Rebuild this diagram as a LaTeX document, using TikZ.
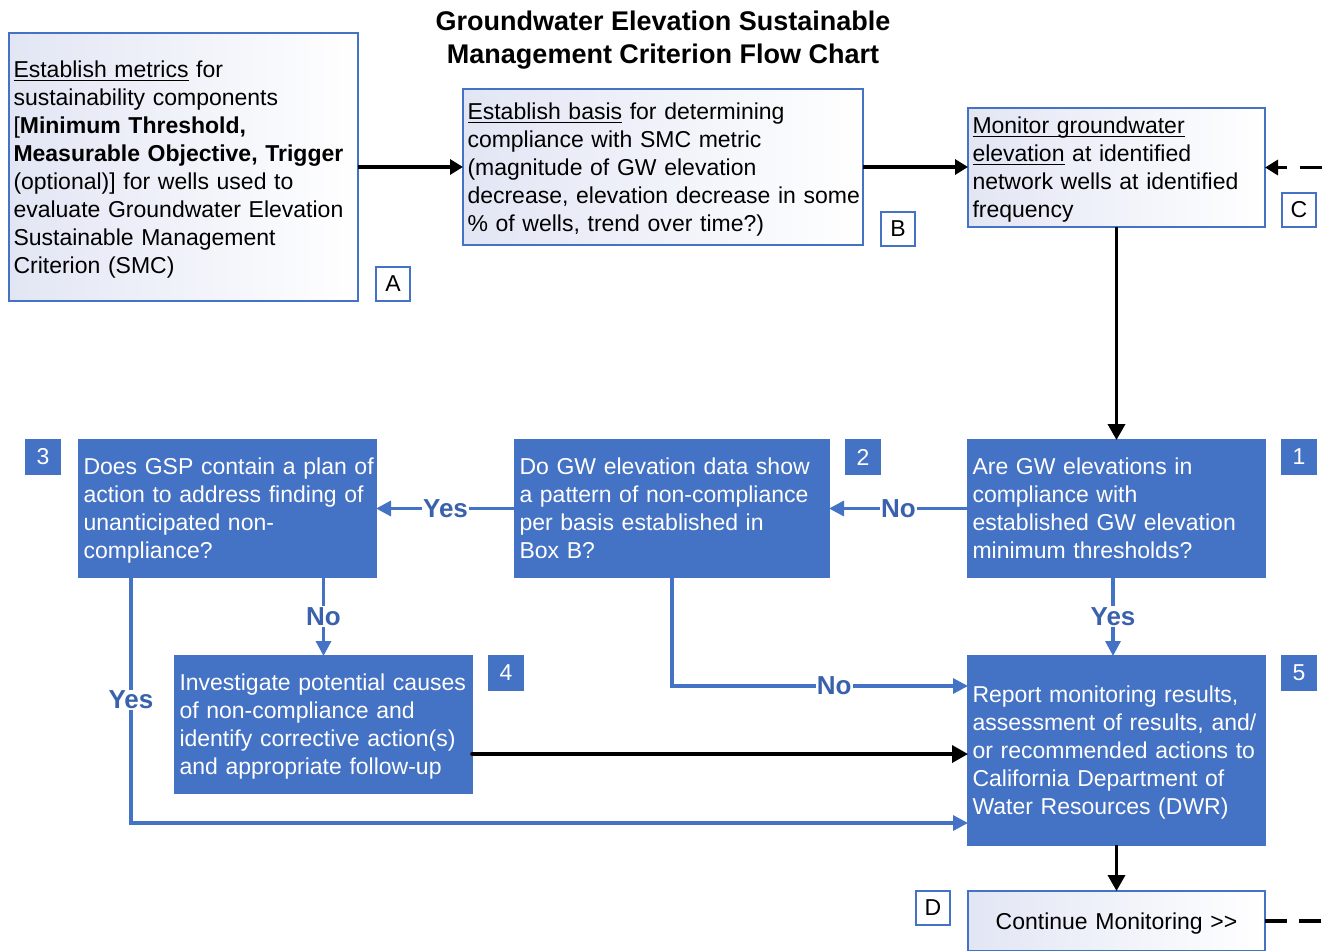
\documentclass[tikz,border=0pt]{standalone}
\usepackage{fontspec}
\setmainfont{Liberation Sans}
\usetikzlibrary{arrows.meta}
\definecolor{flowblue}{RGB}{68,114,196}
\definecolor{labelblue}{RGB}{58,98,172}
\definecolor{paleblue}{RGB}{226,230,244}
% underline drawn at a fixed depth below the baseline
\newcommand{\undertext}[1]{\leavevmode\setbox0\hbox{#1}\rlap{\rule[-3.4pt]{\wd0}{1.2pt}}\box0\relax}
% line box used to centre the text blocks the same way in every box
\newcommand{\linestrut}{\vrule width 0pt height 22.3pt depth 5.7pt\relax}

\begin{document}
\begin{tikzpicture}[x=1pt,y=-1pt,
  every node/.style={outer sep=0pt, inner ysep=0pt, inner xsep=4.5pt,
    font=\fontsize{23}{28}\selectfont},
  textbox/.style={align=left, anchor=north west,
    execute at begin node=\linestrut, execute at end node=\linestrut},
  lightbox/.style={textbox, draw=flowblue, line width=1.5pt, left color=paleblue,
    right color=white, text=black},
  darkbox/.style={textbox, draw=flowblue, fill=flowblue, line width=1.5pt,
    text=white},
  tagbox/.style={draw=flowblue, line width=1.5pt, fill=white, text=black,
    minimum width=34pt, minimum height=34pt, inner sep=0pt, anchor=north west},
  numbox/.style={tagbox, fill=flowblue, text=white},
  flowline/.style={draw=flowblue, line width=3.2pt},
  flowarrow/.style={flowline, -{Triangle[length=15pt,width=15pt]}},
  blackline/.style={draw=black, line width=3.6pt},
  blackarrow/.style={blackline, -{Triangle[length=16pt,width=17pt]}},
  smallarrow/.style={blackline, line width=3.2pt, -{Triangle[length=13pt,width=15pt]}},
  answer/.style={fill=white, text=labelblue, inner sep=1pt,
    font=\fontsize{26}{28}\selectfont\bfseries}
]
\useasboundingbox (0,0) rectangle (1327,950);

% title
\node[font=\fontsize{27}{33}\selectfont\bfseries, align=center] (title) at (663,40)
  {Groundwater Elevation Sustainable\\Management Criterion Flow Chart};

% upper row: set-up steps
\node[lightbox, minimum width=349pt, text width=340pt, minimum height=268pt] (A) at (9,33)
  {\undertext{Establish metrics} for\\
   sustainability components\\
   {[}\textbf{Minimum Threshold,}\\
   \mbox{\textbf{Measurable Objective, Trigger}}\\
   (optional){]} for wells used to\\
   \mbox{evaluate Groundwater Elevation}\\
   Sustainable Management\\
   Criterion (SMC)};
\node[tagbox] (tagA) at (376,267) {A};

\node[lightbox, minimum width=400pt, text width=391pt, minimum height=156pt] (B) at (463,89)
  {\undertext{Establish basis} for determining\\
   compliance with SMC metric\\
   (magnitude of GW elevation\\
   \mbox{decrease, elevation decrease in some}\\
   \% of wells, trend over time?)};
\node[tagbox] (tagB) at (881,212) {B};

\node[lightbox, minimum width=297pt, text width=288pt, minimum height=119pt] (C) at (968,108)
  {\undertext{Monitor groundwater}\\
   \undertext{elevation} at identified\\
   network wells at identified\\
   frequency};
\node[tagbox] (tagC) at (1282,193) {C};

% decision and action boxes
\node[darkbox, minimum width=297pt, text width=288pt, minimum height=137pt] (b1) at (968,440)
  {Are GW elevations in\\
   compliance with\\
   \mbox{established GW elevation}\\
   minimum thresholds?};
\node[numbox] (n1) at (1282,440) {1};

\node[darkbox, minimum width=314pt, text width=305pt, minimum height=137pt] (b2) at (515,440)
  {Do GW elevation data show\\
   \mbox{a pattern of non-compliance}\\
   per basis established in\\
   Box B?};
\node[numbox] (n2) at (846,440) {2};

\node[darkbox, minimum width=297pt, text width=288pt, minimum height=137pt] (b3) at (79,440)
  {\mbox{Does GSP contain a plan of}\\
   \mbox{action to address finding of}\\
   unanticipated non-\\
   compliance?};
\node[numbox] (n3) at (26,440) {3};

\node[darkbox, minimum width=297pt, text width=288pt, minimum height=137pt] (b4) at (175,656)
  {\mbox{Investigate potential causes}\\
   of non-compliance and\\
   \mbox{identify corrective action(s)}\\
   \mbox{and appropriate follow-up}};
\node[numbox] (n4) at (489,656) {4};

\node[darkbox, minimum width=297pt, text width=288pt, minimum height=189pt] (b5) at (968,656)
  {\mbox{Report monitoring results,}\\
   \mbox{assessment of results, and/}\\
   \mbox{or recommended actions to}\\
   California Department of\\
   Water Resources (DWR)};
\node[numbox] (n5) at (1282,656) {5};

\node[lightbox, align=center, minimum width=297pt, text width=288pt, minimum height=60pt] (D) at (968,891)
  {Continue Monitoring >\kern0pt>};
\node[tagbox] (tagD) at (916,891) {D};

% connectors
\draw[smallarrow] (A.east) -- (B.west);
\draw[smallarrow] (B.east) -- (B.east -| C.west);
\coordinate (feedC) at (1327,167.5);
\draw[smallarrow, dash pattern=on 22pt off 13pt, dash phase=30pt] (feedC) -- (C.east);
\draw[blackarrow] (C.south) -- (b1.north);

\draw[flowarrow] (b1.west) -- node[answer] {No} (b2.east);
\draw[flowarrow] (b2.west) -- node[answer] {Yes} (b3.east);
\draw[flowarrow] (b3.south -| b4.north) -- node[answer] {No} (b4.north);

\coordinate (yesStart) at ([xshift=52pt]b3.south west);
\coordinate (yesEnd) at ([yshift=22pt]b5.south west);
\draw[flowarrow] (yesStart) |- node[answer, pos=0.25] {Yes} (yesEnd);

\coordinate (noEnd) at ([yshift=64.5pt]b5.west);
\draw[flowarrow] (b2.south) |- node[answer, pos=0.774] {No} (noEnd);

\draw[flowarrow] ([xshift=-3.5pt]b1.south) -- node[answer] {Yes} ([xshift=-3.5pt]b5.north);

\coordinate (fromInv) at ([yshift=-29.5pt]b4.east);
\draw[blackarrow, line cap=round] (fromInv) -- (fromInv -| b5.west);

\draw[blackarrow] (b5.south) -- (D.north);
\coordinate (feedOut) at (1327,921);
\draw[blackline, dash pattern=on 22pt off 12pt] (D.east) -- (feedOut);
\end{tikzpicture}
\end{document}
